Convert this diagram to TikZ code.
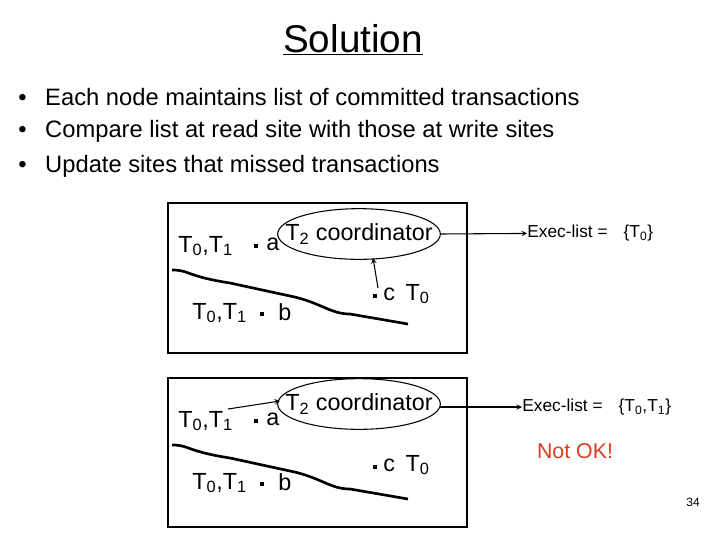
\documentclass[tikz,border=0pt]{standalone}
\usepackage{fontspec}
\setmainfont{Liberation Sans}
\usetikzlibrary{shapes.geometric}
\definecolor{notok}{RGB}{220,60,30}
\tikzset{
  every node/.style={inner sep=0pt},
  site/.style={font=\fontsize{17.5}{20}\selectfont},
  pt/.style={fill, minimum size=3.5pt, inner sep=0pt},
  coord/.style={font=\fontsize{17.5}{20}\selectfont},
  ring/.style={thick},
  execl/.style={font=\fontsize{13}{15}\selectfont},
  cut/.style={line width=2pt},
  lnk/.style={thick, -stealth},
  bul/.style={anchor=west, font=\fontsize{17.8}{20}\selectfont},
}
\newcommand{\Tsub}[1]{T\textsubscript{#1}}

\begin{document}
\begin{tikzpicture}[x=0.75pt, y=-0.75pt]
\useasboundingbox (0,0) rectangle (720,540);
% Title and bullets
    \node (title) at (353,40) {\fontsize{29}{32}\selectfont\underline{Solution}};
    \node[bul] (b1) at (18,97) {\textbullet\hspace{14pt}Each node maintains list of committed transactions};
    \node[bul] (b2) at (18,131) {\textbullet\hspace{14pt}Compare list at read site with those at write sites};
    \node[bul] (b3) at (18,166) {\textbullet\hspace{14pt}Update sites that missed transactions};
% Upper scenario
    \draw[thick] (168,203) rectangle (467,353);
    \node[coord] (co1) at (359,234) {\Tsub{2} coordinator};
    \draw[ring] (co1.center) ellipse [x radius=61pt, y radius=19pt];
    \node[site, anchor=west] (ta1) at (178,246) {\Tsub{0},\Tsub{1}};
    \node[pt] (a1) at (256,246) {};
    \node[site, anchor=west] (la1) at (266,244) {a};
    \node[site, anchor=west] (tb1) at (192,313) {\Tsub{0},\Tsub{1}};
    \node[pt] (b1p) at (262,314) {};
    \node[site, anchor=west] (lb1) at (278,312) {b};
    \node[pt] (c1) at (375,296) {};
    \node[site, anchor=west] (lc1) at (383,294) {c\hspace{8pt}\Tsub{0}};
    \draw[cut] (172,270) .. controls (190,270) and (185,276) .. (230,283)
        -- (290,296) .. controls (320,302) and (330,314) .. (350,314) -- (408,324);
    \coordinate (up1) at (378,288);
    \coordinate (bot1) at (373,258);
    \draw[lnk] (up1) -- (bot1);
    \coordinate (right1) at (440,234);
    \node[execl, anchor=west] (ex1) at (527,233) {Exec-list =\hspace{12pt}\{\Tsub{0}\}};
    \draw[lnk] (right1) -- (ex1);
% Lower scenario
    \draw[thick] (168,378) rectangle (467,527);
    \node[coord] (co2) at (359,404) {\Tsub{2} coordinator};
    \draw[ring] (co2.center) ellipse [x radius=61pt, y radius=19pt];
    \node[site, anchor=west] (ta2) at (178,421) {\Tsub{0},\Tsub{1}};
    \node[pt] (a2) at (256,421) {};
    \node[site, anchor=west] (la2) at (266,419) {a};
    \node[site, anchor=west] (tb2) at (192,483) {\Tsub{0},\Tsub{1}};
    \node[pt] (b2p) at (262,484) {};
    \node[site, anchor=west] (lb2) at (278,482) {b};
    \node[pt] (c2) at (375,467) {};
    \node[site, anchor=west] (lc2) at (383,465) {c\hspace{8pt}\Tsub{0}};
    \draw[cut] (172,445) .. controls (190,445) and (185,451) .. (230,458)
        -- (290,471) .. controls (320,477) and (330,489) .. (350,489) -- (408,499);
    \coordinate (from2) at (228,409);
    \coordinate (left2) at (280,401);
    \draw[lnk] (from2) -- (left2);
    \coordinate (right2) at (440,407);
    \node[execl, anchor=west] (ex2) at (522,407) {Exec-list =\hspace{12pt}\{\Tsub{0},\Tsub{1}\}};
    \draw[lnk] (right2) -- (ex2);
    \node[text=notok, font=\fontsize{16}{18}\selectfont] (nok) at (575,451) {Not OK!};
    \node[font=\fontsize{9}{11}\selectfont] (page) at (693,502) {34};
\end{tikzpicture}
\end{document}
